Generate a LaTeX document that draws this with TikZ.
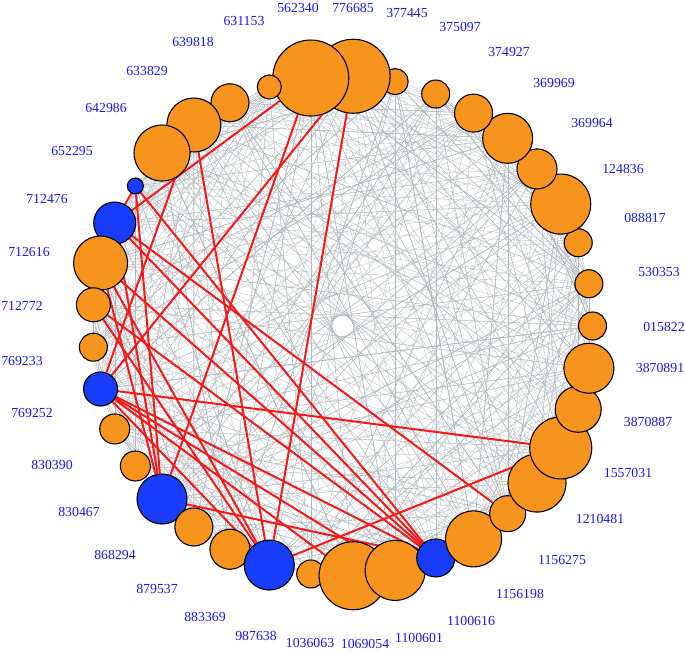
\documentclass[tikz,border=0pt]{standalone}
\usepackage{fontspec}
\setmainfont{Liberation Serif}
\usetikzlibrary{backgrounds}
\definecolor{nodeorange}{RGB}{247,148,30}
\definecolor{nodeblue}{RGB}{25,60,250}
\definecolor{labelblue}{RGB}{25,25,235}
\definecolor{edgegray}{RGB}{178,186,189}
\definecolor{edgered}{RGB}{245,25,25}
\begin{document}
\begin{tikzpicture}[x=1pt,y=-1pt,
  vtx/.style={circle,draw=black,line width=1.1pt,inner sep=0pt,minimum size=#1},
  lbl/.style={text=labelblue,font=\fontsize{13.8}{14}\selectfont,inner sep=0pt},
  grayedge/.style={draw=edgegray,line width=0.3pt},
  rededge/.style={draw=edgered,line width=2pt}]
\useasboundingbox (0,0) rectangle (685,652);
% vertices (drawn so that lower index lies on top)
\foreach \k/\r/\c in {37/19/nodeorange, 36/27/nodeorange, 35/28/nodeorange, 34/8/nodeblue,
  33/21/nodeblue, 32/27/nodeorange, 31/17/nodeorange, 30/14/nodeorange, 29/17/nodeblue,
  28/15/nodeorange, 27/15/nodeorange, 26/25/nodeblue, 25/19/nodeorange, 24/20/nodeorange,
  23/25/nodeblue, 22/14/nodeorange, 21/34/nodeorange, 20/30/nodeorange, 19/19/nodeblue,
  18/28/nodeorange, 17/18/nodeorange, 16/29/nodeorange, 15/31/nodeorange, 14/23/nodeorange,
  13/25/nodeorange, 12/14/nodeorange, 11/14/nodeorange, 10/14/nodeorange, 9/30/nodeorange,
  8/20/nodeorange, 7/25/nodeorange, 6/19/nodeorange, 5/14/nodeorange, 4/13/nodeorange,
  3/37/nodeorange, 2/38/nodeorange, 1/12/nodeorange}{
  \pgfmathsetmacro\t{(12-\k)*360/37}
  \pgfmathsetmacro\d{2*\r}
  \node[vtx=\d pt, fill=\c] (n\k) at ({342.5+250*cos(\t)},{326-250*sin(\t)}) {};
}
% labels
\foreach \k/\x/\y/\s in {1/244/21/631153, 2/298/8/562340, 3/353/8/776685, 4/407/13/377445,
  5/460/27/375097, 6/509/52/374927, 7/554/83/369969, 8/592/123/369964, 9/623/169/124836,
  10/645/218/088817, 11/659/272/530353, 12/664/327/015822, 13/660/368/3870891,
  14/648/422/3870887, 15/628/473/1557031, 16/600/519/1210481, 17/562/560/1156275,
  18/520/594/1156198, 19/471/621/1100616, 20/419/638/1100601, 21/365/644/1069054,
  22/310/643/1036063, 23/256/636/987638, 24/205/617/883369, 25/157/589/879537,
  26/115/555/868294, 27/79/512/830467, 28/52/465/830390, 29/32/413/769252,
  30/22/361/769233, 31/22/306/712772, 32/29/252/712616, 33/47/199/712476,
  34/72/151/652295, 35/106/108/642986, 36/147/71/633829, 37/193/42/639818}{
  \node[lbl] (l\k) at (\x,\y) {\s};
}
\begin{scope}[on background layer]
  \pgfmathsetseed{12345}
  \foreach \i in {1,...,650}{
    \pgfmathrandominteger{\a}{1}{37}
    \pgfmathrandominteger{\b}{1}{37}
    \ifnum\a=\b\else \draw[grayedge] (n\a) -- (n\b); \fi
  }
  \foreach \a/\b in {2/33, 2/26, 3/29, 3/23, 36/23, 36/29, 33/17, 29/15, 23/15,
    33/19, 34/19, 32/19, 31/19, 29/19, 34/26, 33/26, 32/26, 34/33, 29/21, 29/23,
    26/19, 29/20, 31/23, 32/23}{
    \draw[rededge] (n\a) -- (n\b);
  }
\end{scope}
\end{tikzpicture}
\end{document}
